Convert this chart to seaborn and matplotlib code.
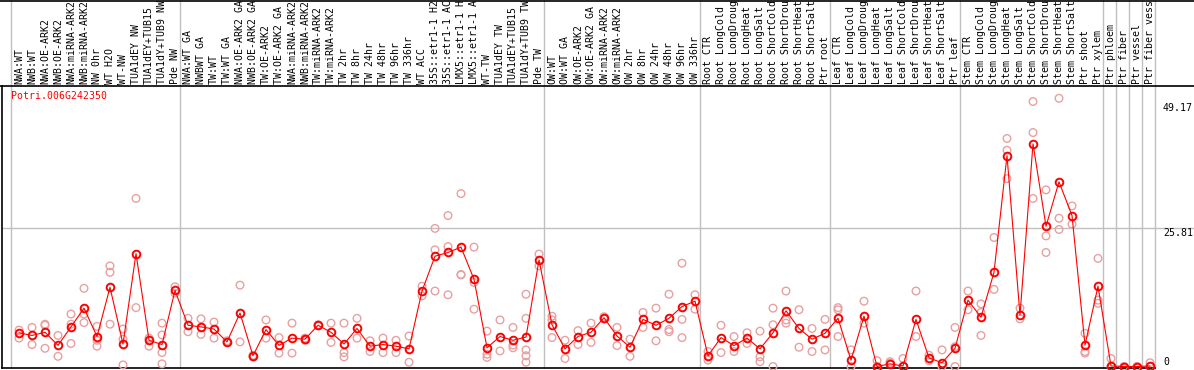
import numpy as np
import pandas as pd
import seaborn as sns
import matplotlib.pyplot as plt
from matplotlib.lines import Line2D
from matplotlib.transforms import blended_transform_factory

gene = 'Potri.006G242350'

samples = [
    'NWA:WT', 'NWB:WT', 'NWA:OE-ARK2', 'NWB:OE-ARK2', 'NWA:miRNA-ARK2', 'NWB:miRNA-ARK2',
    'NW 0hr', 'WT H2O', 'WT-NW', 'TUA1dEY NW', 'TUA1dEY+TUB15', 'TUA1dY+TUB9 NW', 'Pde NW',
    'NWA:WT GA', 'NWBWT GA', 'TW:WT', 'TW:WT GA', 'NWA:OE-ARK2 GA', 'NWB:OE-ARK2 GA',
    'TW:OE-ARK2', 'TW:OE-ARK2 GA', 'NWA:miRNA-ARK2', 'NWB:miRNA-ARK2', 'TW:miRNA-ARK2',
    'TW:miRNA-ARK2', 'TW 2hr', 'TW 8hr', 'TW 24hr', 'TW 48hr', 'TW 96hr', 'TW 336hr', 'WT ACC',
    '35S::etr1-1 H2O', '35S::etr1-1 ACC', 'LMX5::etr1-1 H2O', 'LMX5::etr1-1 ACC', 'WT-TW',
    'TUA1dEY TW', 'TUA1dEY+TUB15', 'TUA1dY+TUB9 TW', 'Pde TW',
    'OW:WT', 'OW:WT GA', 'OW:OE-ARK2', 'OW:OE-ARK2 GA', 'OW:miRNA-ARK2', 'OW:miRNA-ARK2',
    'OW 2hr', 'OW 8hr', 'OW 24hr', 'OW 48hr', 'OW 96hr', 'OW 336hr',
    'Root CTR', 'Root LongCold', 'Root LongDrought', 'Root LongHeat', 'Root LongSalt',
    'Root ShortCold', 'Root ShortDrought', 'Root ShortHeat', 'Root ShortSalt', 'Ptr root',
    'Leaf CTR', 'Leaf LongCold', 'Leaf LongDrought', 'Leaf LongHeat', 'Leaf LongSalt',
    'Leaf ShortCold', 'Leaf ShortDrought', 'Leaf ShortHeat', 'Leaf ShortSalt', 'Ptr leaf',
    'Stem CTR', 'Stem LongCold', 'Stem LongDrought', 'Stem LongHeat', 'Stem LongSalt',
    'Stem ShortCold', 'Stem ShortDrought', 'Stem ShortHeat', 'Stem ShortSalt', 'Ptr shoot',
    'Ptr xylem', 'Ptr phloem', 'Ptr fiber', 'Ptr vessel', 'Ptr fiber vessel',
]

means = [
    6.3, 5.8, 6.4, 3.95, 7.4, 10.9, 5.6, 14.8, 4.2, 21.1, 4.9, 4.1, 14.2,
    7.7, 7.4, 7.0, 4.6, 10.0, 2.0, 6.9, 3.95, 5.3, 5.1, 7.7, 6.4, 4.2, 7.1, 3.8, 4.1, 3.8,
    3.3, 14.1, 20.6, 21.3, 22.3, 16.3, 3.5, 5.6, 4.9, 5.5, 19.9,
    7.8, 3.3, 5.6, 6.4, 9.1, 5.7, 3.6, 8.8, 7.7, 9.0, 11.2, 12.2,
    2.0, 5.4, 3.9, 5.3, 3.3, 6.3, 10.4, 7.1, 5.1, 6.2,
    9.0, 1.2, 9.4, 0.0, 0.5, 0.1, 8.8, 1.6, 0.7, 3.4,
    12.4, 9.2, 17.6, 39.4, 9.6, 41.6, 26.2, 34.5, 28.2, 4.0, 15.0,
    0.1, 0.0, 0.0, 0.1,
]

replicates = [
    [6.8, 5.3], [7.3, 4.1], [7.9, 7.7, 3.4], [5.8, 1.9], [9.8, 7.9, 4.3], [14.6, 9.8, 8.2],
    [7.5, 4.9, 3.8], [18.8, 17.6, 7.9], [7.0, 5.1, 0.3], [31.4, 11.0], [5.3, 3.8],
    [8.1, 5.9, 2.6, 0.5], [14.9, 13.7],
    [9.0, 6.5], [8.9, 6.0], [8.3, 5.3], [4.8, 4.5], [15.2, 4.6], [2.1, 1.8], [8.7, 5.3],
    [5.4, 2.5], [8.1, 2.5], [5.3, 4.9], [7.8, 7.6], [8.1, 4.5], [8.1, 2.6, 1.8], [9.0, 5.3],
    [4.8, 2.8], [5.3, 2.6], [4.9, 2.6], [5.7, 0.8], [15.0, 13.2], [25.8, 21.8, 14.1],
    [28.2, 22.4, 13.4], [32.3, 17.2, 17.1], [22.3, 15.7, 10.7], [6.6, 2.3, 1.7], [8.7, 2.9],
    [7.3, 4.0, 3.5], [13.5, 9.0, 3.1, 2.0, 0.8], [21.0, 18.8],
    [9.4, 8.7, 5.4], [4.9, 1.5], [6.7, 4.1], [8.1, 4.5], [9.3, 8.9], [7.3, 3.9], [5.1, 1.9],
    [10.1, 7.3], [10.9, 4.8], [13.5, 6.9, 6.5], [19.3, 8.8, 5.4], [13.4, 10.7],
    [2.8, 1.2], [7.7, 2.6], [5.6, 2.8], [6.3, 4.3], [6.6, 1.8, 0.9], [10.9, 7.8, 0.0],
    [14.1, 8.7, 8.1], [10.6, 3.6], [7.1, 2.8], [8.8, 3.1],
    [11.0, 10.6, 5.6], [3.1, 0.0], [12.2, 8.1], [1.1, 0.0], [0.9, 0.6], [1.5, 0.0],
    [14.1, 5.6], [2.1, 1.1], [3.1, 0.0], [7.3, 3.7, 0.0],
    [14.1, 10.6], [11.7, 10.1, 5.8], [24.1, 14.4], [42.6, 40.4, 35.1], [10.9, 8.9],
    [49.5, 43.7, 31.4], [33.0, 24.4, 21.3], [50.1, 27.7, 25.6], [30.0, 26.6],
    [6.2, 2.8, 2.5], [20.2, 12.4, 11.8],
    [1.5, 0.0], [0.0, 0.0], [0.0, 0.0], [0.7, 0.0],
]

# first sample index of each group (last entry closes the final group)
group_starts = [0, 13, 41, 53, 63, 73, 84, 85, 86, 87, 88]
y_labels = [49.17, 25.81, 0]

# the label strip only has room for this many characters
max_chars = 14


def main():
    sns.set_style('white')
    plt.rcParams['font.family'] = ['DejaVu Sans Mono']

    W, H = 1194, 370
    fig = plt.figure(figsize=(W / 100, H / 100), dpi=100)
    ax_l, ax_r, ax_t, ax_b = 1.5, 1155, 86, 368
    ax = fig.add_axes([ax_l / W, (H - ax_b) / H, (ax_r - ax_l) / W, (ax_b - ax_t) / H])

    mean_df = pd.DataFrame({'pos': np.arange(len(samples)), 'value': means})
    rep_df = pd.DataFrame(
        [(i, v) for i, reps in enumerate(replicates) for v in reps],
        columns=['pos', 'value'],
    )

    pink = '#E8A0A0'
    sns.scatterplot(data=rep_df, x='pos', y='value', ax=ax, marker='o', s=30,
                    facecolors='none', edgecolor=pink, linewidth=1.0, zorder=3,
                    clip_on=False)
    sns.lineplot(data=mean_df, x='pos', y='value', ax=ax, color='red', lw=0.8,
                 marker='o', markersize=5.5, markerfacecolor='none',
                 markeredgecolor='red', markeredgewidth=1.4, sort=False,
                 estimator=None, zorder=4, clip_on=False)

    # sample slot: 13 px, point sits ~8 px into it
    x_off = 0.615
    x_px0 = 19
    ax.set_xlim((ax_l - x_px0) / 13, (ax_r - x_px0) / 13)
    ax.set_ylim(-0.28, 52.4)
    ax.set_xticks([])
    ax.set_yticks([])
    ax.set_xlabel('')
    ax.set_ylabel('')

    ax_h = ax_b - ax_t
    gray = '#C0C0C0'
    for b in group_starts:
        ax.axvline(b - x_off, ymin=0, ymax=ax_b / ax_h, color=gray, lw=1.0,
                   clip_on=False, zorder=1)
    ax.axhline(25.81, xmin=0, xmax=(W - ax_l) / (ax_r - ax_l), color=gray, lw=1.0,
               clip_on=False, zorder=1)

    for side in ['top', 'right']:
        ax.spines[side].set_visible(False)
    for side in ['left', 'bottom']:
        ax.spines[side].set_color('black')
        ax.spines[side].set_linewidth(1.2)

    trans = blended_transform_factory(ax.transData, ax.transAxes)
    for i, name in enumerate(samples):
        ax.text(i, 1 + 2.5 / ax_h, name[:max_chars], transform=trans, rotation=90,
                ha='center', va='bottom', fontsize=7.1, color='black')

    lab_trans = blended_transform_factory(ax.transAxes, ax.transData)
    x_lab = (1163 - ax_l) / (ax_r - ax_l)
    for v in y_labels:
        ax.text(x_lab, v, f'{v:g}', transform=lab_trans, ha='left',
                va='bottom' if v == 0 else 'top', fontsize=7.1, color='black')

    ax.text(10 / (ax_r - ax_l), 1 - 5 / ax_h, gene, transform=ax.transAxes,
            ha='left', va='top', fontsize=7.1, color='red')

    fig.add_artist(Line2D([0, 1], [1 - 0.5 / H, 1 - 0.5 / H], transform=fig.transFigure,
                          color='black', lw=1.2))
    fig.add_artist(Line2D([0, 1], [(H - ax_t) / H] * 2, transform=fig.transFigure,
                          color='black', lw=1.2))

    fig.savefig('out.png', dpi=100)


if __name__ == '__main__':
    main()
